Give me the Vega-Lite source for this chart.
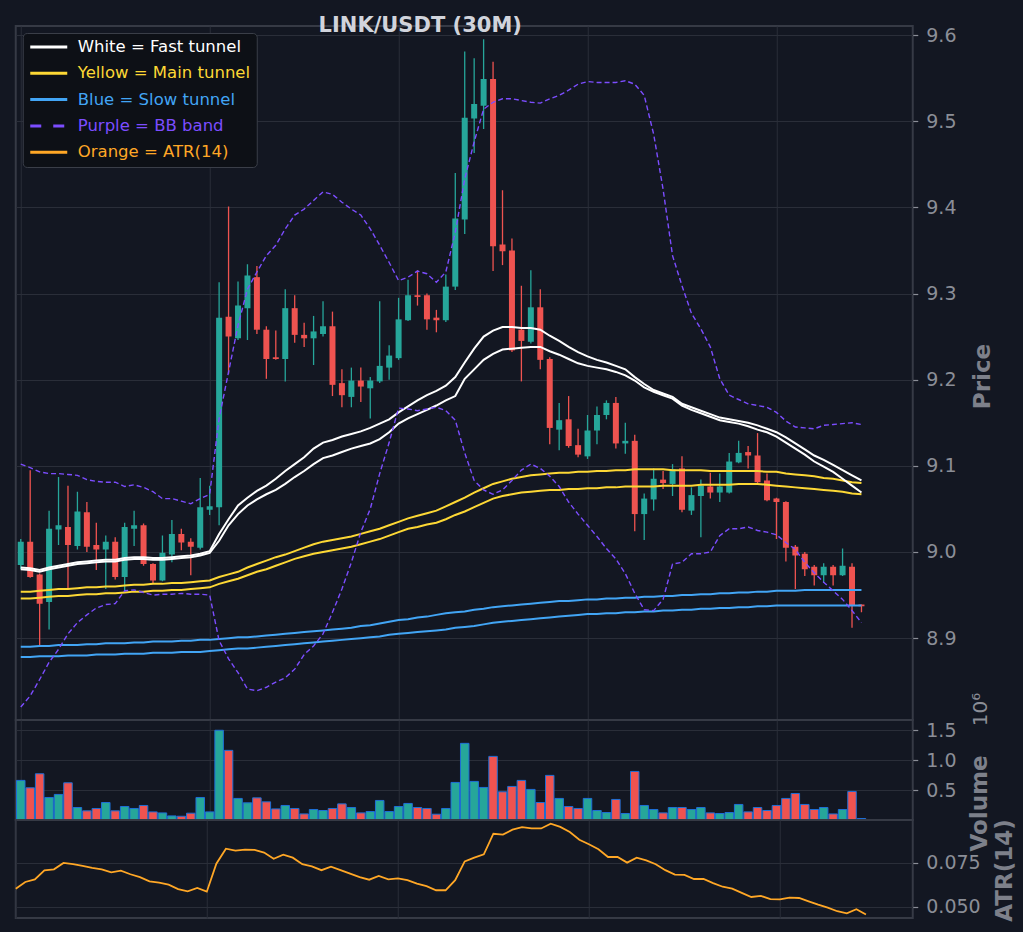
{
  "$schema": "https://vega.github.io/schema/vega-lite/v6.json",
  "description": "LINK/USDT 30m candles with tunnel lines, BB band, volume and ATR(14)",
  "background": "#131722",
  "padding": {"left": 10.75, "top": 14, "right": 5, "bottom": 14},
  "spacing": 0,
  "bounds": "flush",
  "data": {
    "values": [
      {"i":0,"o":8.985,"h":9.015,"l":8.980,"c":9.012,"v":663000,"a":0.0604,"f1":8.982,"f2":8.980,"m1":8.954,"m2":8.946,"s1":8.890,"s2":8.878,"bu":9.102,"bl":8.820},
      {"i":1,"o":9.012,"h":9.095,"l":8.970,"c":8.971,"v":539000,"a":0.0642,"f1":8.981,"f2":8.979,"m1":8.954,"m2":8.946,"s1":8.890,"s2":8.878,"bu":9.098,"bl":8.833},
      {"i":2,"o":8.974,"h":8.975,"l":8.892,"c":8.940,"v":774000,"a":0.0657,"f1":8.979,"f2":8.977,"m1":8.955,"m2":8.947,"s1":8.891,"s2":8.879,"bu":9.093,"bl":8.852},
      {"i":3,"o":8.942,"h":9.048,"l":8.910,"c":9.027,"v":377000,"a":0.0708,"f1":8.982,"f2":8.980,"m1":8.956,"m2":8.948,"s1":8.891,"s2":8.879,"bu":9.091,"bl":8.872},
      {"i":4,"o":9.026,"h":9.087,"l":9.008,"c":9.031,"v":428000,"a":0.0714,"f1":8.984,"f2":8.982,"m1":8.957,"m2":8.949,"s1":8.892,"s2":8.879,"bu":9.091,"bl":8.887},
      {"i":5,"o":9.029,"h":9.077,"l":8.957,"c":9.008,"v":623000,"a":0.0750,"f1":8.986,"f2":8.984,"m1":8.957,"m2":8.949,"s1":8.892,"s2":8.880,"bu":9.090,"bl":8.905},
      {"i":6,"o":9.007,"h":9.070,"l":9.003,"c":9.047,"v":209000,"a":0.0744,"f1":8.988,"f2":8.986,"m1":8.958,"m2":8.950,"s1":8.892,"s2":8.880,"bu":9.089,"bl":8.918},
      {"i":7,"o":9.046,"h":9.058,"l":9.000,"c":9.006,"v":153000,"a":0.0733,"f1":8.989,"f2":8.987,"m1":8.959,"m2":8.951,"s1":8.893,"s2":8.880,"bu":9.084,"bl":8.927},
      {"i":8,"o":9.008,"h":9.034,"l":8.979,"c":9.003,"v":193000,"a":0.0722,"f1":8.990,"f2":8.988,"m1":8.959,"m2":8.951,"s1":8.893,"s2":8.881,"bu":9.082,"bl":8.935},
      {"i":9,"o":9.003,"h":9.019,"l":8.957,"c":9.012,"v":293000,"a":0.0714,"f1":8.991,"f2":8.989,"m1":8.960,"m2":8.952,"s1":8.894,"s2":8.881,"bu":9.081,"bl":8.939},
      {"i":10,"o":9.012,"h":9.017,"l":8.968,"c":8.971,"v":153000,"a":0.0697,"f1":8.991,"f2":8.989,"m1":8.960,"m2":8.952,"s1":8.894,"s2":8.881,"bu":9.081,"bl":8.940},
      {"i":11,"o":8.971,"h":9.034,"l":8.954,"c":9.029,"v":226000,"a":0.0706,"f1":8.993,"f2":8.991,"m1":8.961,"m2":8.953,"s1":8.894,"s2":8.882,"bu":9.076,"bl":8.955},
      {"i":12,"o":9.027,"h":9.048,"l":9.007,"c":9.031,"v":193000,"a":0.0686,"f1":8.994,"f2":8.992,"m1":8.962,"m2":8.954,"s1":8.895,"s2":8.882,"bu":9.078,"bl":8.956},
      {"i":13,"o":9.031,"h":9.033,"l":8.984,"c":8.986,"v":243000,"a":0.0670,"f1":8.994,"f2":8.992,"m1":8.962,"m2":8.954,"s1":8.895,"s2":8.882,"bu":9.075,"bl":8.953},
      {"i":14,"o":8.986,"h":8.987,"l":8.963,"c":8.967,"v":136000,"a":0.0646,"f1":8.993,"f2":8.991,"m1":8.963,"m2":8.955,"s1":8.896,"s2":8.883,"bu":9.070,"bl":8.950},
      {"i":15,"o":8.967,"h":9.019,"l":8.966,"c":8.999,"v":119000,"a":0.0638,"f1":8.993,"f2":8.991,"m1":8.963,"m2":8.955,"s1":8.896,"s2":8.883,"bu":9.062,"bl":8.951},
      {"i":16,"o":8.997,"h":9.037,"l":8.988,"c":9.021,"v":69000,"a":0.0627,"f1":8.994,"f2":8.992,"m1":8.964,"m2":8.956,"s1":8.896,"s2":8.883,"bu":9.062,"bl":8.951},
      {"i":17,"o":9.021,"h":9.027,"l":9.002,"c":9.011,"v":63000,"a":0.0602,"f1":8.995,"f2":8.993,"m1":8.964,"m2":8.956,"s1":8.897,"s2":8.884,"bu":9.059,"bl":8.952},
      {"i":18,"o":9.012,"h":9.016,"l":8.973,"c":9.006,"v":114000,"a":0.0589,"f1":8.996,"f2":8.994,"m1":8.965,"m2":8.957,"s1":8.897,"s2":8.884,"bu":9.056,"bl":8.951},
      {"i":19,"o":9.005,"h":9.086,"l":9.003,"c":9.052,"v":377000,"a":0.0608,"f1":8.998,"f2":8.996,"m1":8.966,"m2":8.958,"s1":8.898,"s2":8.884,"bu":9.062,"bl":8.951},
      {"i":20,"o":9.049,"h":9.077,"l":9.043,"c":9.053,"v":136000,"a":0.0587,"f1":9.001,"f2":8.999,"m1":8.967,"m2":8.959,"s1":8.898,"s2":8.885,"bu":9.067,"bl":8.950},
      {"i":21,"o":9.052,"h":9.313,"l":9.031,"c":9.272,"v":1502000,"a":0.0746,"f1":9.021,"f2":9.013,"m1":8.971,"m2":8.963,"s1":8.899,"s2":8.886,"bu":9.155,"bl":8.897},
      {"i":22,"o":9.273,"h":9.401,"l":9.207,"c":9.250,"v":1166000,"a":0.0831,"f1":9.038,"f2":9.031,"m1":8.974,"m2":8.966,"s1":8.900,"s2":8.887,"bu":9.209,"bl":8.876},
      {"i":23,"o":9.248,"h":9.314,"l":9.246,"c":9.286,"v":361000,"a":0.0820,"f1":9.054,"f2":9.044,"m1":8.977,"m2":8.969,"s1":8.901,"s2":8.888,"bu":9.263,"bl":8.860},
      {"i":24,"o":9.283,"h":9.334,"l":9.246,"c":9.321,"v":287000,"a":0.0826,"f1":9.063,"f2":9.054,"m1":8.982,"m2":8.973,"s1":8.901,"s2":8.888,"bu":9.305,"bl":8.841},
      {"i":25,"o":9.319,"h":9.332,"l":9.253,"c":9.258,"v":371000,"a":0.0824,"f1":9.071,"f2":9.061,"m1":8.986,"m2":8.977,"s1":8.902,"s2":8.889,"bu":9.325,"bl":8.839},
      {"i":26,"o":9.258,"h":9.262,"l":9.201,"c":9.224,"v":304000,"a":0.0809,"f1":9.077,"f2":9.067,"m1":8.990,"m2":8.980,"s1":8.903,"s2":8.890,"bu":9.344,"bl":8.843},
      {"i":27,"o":9.226,"h":9.257,"l":9.223,"c":9.224,"v":186000,"a":0.0774,"f1":9.085,"f2":9.072,"m1":8.994,"m2":8.984,"s1":8.904,"s2":8.891,"bu":9.356,"bl":8.849},
      {"i":28,"o":9.224,"h":9.305,"l":9.198,"c":9.283,"v":243000,"a":0.0797,"f1":9.094,"f2":9.079,"m1":8.997,"m2":8.988,"s1":8.905,"s2":8.892,"bu":9.375,"bl":8.854},
      {"i":29,"o":9.283,"h":9.298,"l":9.243,"c":9.252,"v":193000,"a":0.0780,"f1":9.102,"f2":9.087,"m1":9.001,"m2":8.992,"s1":8.906,"s2":8.893,"bu":9.391,"bl":8.864},
      {"i":30,"o":9.252,"h":9.266,"l":9.238,"c":9.248,"v":102000,"a":0.0743,"f1":9.110,"f2":9.094,"m1":9.005,"m2":8.995,"s1":8.907,"s2":8.894,"bu":9.398,"bl":8.881},
      {"i":31,"o":9.248,"h":9.274,"l":9.217,"c":9.256,"v":176000,"a":0.0731,"f1":9.120,"f2":9.102,"m1":9.009,"m2":8.998,"s1":8.908,"s2":8.895,"bu":9.408,"bl":8.891},
      {"i":32,"o":9.253,"h":9.291,"l":9.250,"c":9.262,"v":159000,"a":0.0709,"f1":9.127,"f2":9.109,"m1":9.012,"m2":9.000,"s1":8.909,"s2":8.896,"bu":9.418,"bl":8.905},
      {"i":33,"o":9.262,"h":9.279,"l":9.181,"c":9.194,"v":193000,"a":0.0729,"f1":9.130,"f2":9.112,"m1":9.014,"m2":9.002,"s1":8.910,"s2":8.897,"bu":9.415,"bl":8.930},
      {"i":34,"o":9.196,"h":9.212,"l":9.168,"c":9.182,"v":270000,"a":0.0709,"f1":9.134,"f2":9.116,"m1":9.016,"m2":9.004,"s1":8.911,"s2":8.898,"bu":9.406,"bl":8.957},
      {"i":35,"o":9.180,"h":9.214,"l":9.168,"c":9.199,"v":209000,"a":0.0689,"f1":9.137,"f2":9.120,"m1":9.018,"m2":9.006,"s1":8.912,"s2":8.899,"bu":9.398,"bl":8.988},
      {"i":36,"o":9.199,"h":9.214,"l":9.174,"c":9.192,"v":119000,"a":0.0670,"f1":9.140,"f2":9.123,"m1":9.021,"m2":9.009,"s1":8.914,"s2":8.900,"bu":9.391,"bl":9.023},
      {"i":37,"o":9.190,"h":9.203,"l":9.155,"c":9.199,"v":142000,"a":0.0655,"f1":9.144,"f2":9.126,"m1":9.024,"m2":9.012,"s1":8.915,"s2":8.901,"bu":9.375,"bl":9.050},
      {"i":38,"o":9.198,"h":9.291,"l":9.196,"c":9.216,"v":327000,"a":0.0676,"f1":9.149,"f2":9.131,"m1":9.027,"m2":9.015,"s1":8.917,"s2":8.902,"bu":9.356,"bl":9.091},
      {"i":39,"o":9.214,"h":9.240,"l":9.200,"c":9.228,"v":142000,"a":0.0657,"f1":9.154,"f2":9.139,"m1":9.031,"m2":9.019,"s1":8.919,"s2":8.904,"bu":9.336,"bl":9.127},
      {"i":40,"o":9.225,"h":9.295,"l":9.223,"c":9.270,"v":226000,"a":0.0663,"f1":9.162,"f2":9.149,"m1":9.035,"m2":9.023,"s1":8.921,"s2":8.905,"bu":9.315,"bl":9.167},
      {"i":41,"o":9.269,"h":9.316,"l":9.268,"c":9.298,"v":277000,"a":0.0652,"f1":9.169,"f2":9.155,"m1":9.039,"m2":9.027,"s1":8.922,"s2":8.906,"bu":9.319,"bl":9.166},
      {"i":42,"o":9.298,"h":9.327,"l":9.286,"c":9.296,"v":209000,"a":0.0633,"f1":9.176,"f2":9.160,"m1":9.042,"m2":9.029,"s1":8.924,"s2":8.907,"bu":9.326,"bl":9.164},
      {"i":43,"o":9.298,"h":9.300,"l":9.258,"c":9.270,"v":193000,"a":0.0618,"f1":9.182,"f2":9.165,"m1":9.045,"m2":9.032,"s1":8.925,"s2":8.908,"bu":9.323,"bl":9.166},
      {"i":44,"o":9.272,"h":9.281,"l":9.255,"c":9.269,"v":97000,"a":0.0595,"f1":9.187,"f2":9.170,"m1":9.048,"m2":9.034,"s1":8.927,"s2":8.909,"bu":9.313,"bl":9.168},
      {"i":45,"o":9.269,"h":9.322,"l":9.267,"c":9.308,"v":193000,"a":0.0595,"f1":9.193,"f2":9.176,"m1":9.053,"m2":9.038,"s1":8.929,"s2":8.910,"bu":9.325,"bl":9.164},
      {"i":46,"o":9.308,"h":9.440,"l":9.304,"c":9.387,"v":629000,"a":0.0652,"f1":9.203,"f2":9.181,"m1":9.058,"m2":9.043,"s1":8.930,"s2":8.912,"bu":9.371,"bl":9.153},
      {"i":47,"o":9.386,"h":9.581,"l":9.369,"c":9.504,"v":1283000,"a":0.0759,"f1":9.220,"f2":9.201,"m1":9.063,"m2":9.047,"s1":8.931,"s2":8.913,"bu":9.433,"bl":9.115},
      {"i":48,"o":9.503,"h":9.573,"l":9.463,"c":9.520,"v":646000,"a":0.0780,"f1":9.236,"f2":9.212,"m1":9.069,"m2":9.052,"s1":8.933,"s2":8.914,"bu":9.476,"bl":9.083},
      {"i":49,"o":9.518,"h":9.595,"l":9.491,"c":9.549,"v":545000,"a":0.0799,"f1":9.250,"f2":9.223,"m1":9.074,"m2":9.057,"s1":8.934,"s2":8.916,"bu":9.514,"bl":9.072},
      {"i":50,"o":9.549,"h":9.569,"l":9.326,"c":9.355,"v":1065000,"a":0.0916,"f1":9.257,"f2":9.230,"m1":9.079,"m2":9.062,"s1":8.936,"s2":8.918,"bu":9.522,"bl":9.067},
      {"i":51,"o":9.357,"h":9.420,"l":9.333,"c":9.349,"v":472000,"a":0.0911,"f1":9.261,"f2":9.235,"m1":9.082,"m2":9.065,"s1":8.937,"s2":8.919,"bu":9.526,"bl":9.072},
      {"i":52,"o":9.350,"h":9.364,"l":9.232,"c":9.234,"v":562000,"a":0.0939,"f1":9.261,"f2":9.236,"m1":9.085,"m2":9.067,"s1":8.938,"s2":8.920,"bu":9.526,"bl":9.083},
      {"i":53,"o":9.258,"h":9.309,"l":9.198,"c":9.245,"v":663000,"a":0.0953,"f1":9.260,"f2":9.237,"m1":9.087,"m2":9.069,"s1":8.939,"s2":8.921,"bu":9.524,"bl":9.095},
      {"i":54,"o":9.244,"h":9.327,"l":9.242,"c":9.284,"v":512000,"a":0.0947,"f1":9.260,"f2":9.238,"m1":9.089,"m2":9.070,"s1":8.940,"s2":8.922,"bu":9.522,"bl":9.102},
      {"i":55,"o":9.284,"h":9.305,"l":9.212,"c":9.223,"v":293000,"a":0.0946,"f1":9.258,"f2":9.238,"m1":9.090,"m2":9.071,"s1":8.941,"s2":8.923,"bu":9.521,"bl":9.097},
      {"i":56,"o":9.224,"h":9.226,"l":9.125,"c":9.144,"v":747000,"a":0.0973,"f1":9.251,"f2":9.233,"m1":9.091,"m2":9.072,"s1":8.942,"s2":8.924,"bu":9.526,"bl":9.088},
      {"i":57,"o":9.142,"h":9.173,"l":9.118,"c":9.153,"v":361000,"a":0.0955,"f1":9.245,"f2":9.229,"m1":9.092,"m2":9.072,"s1":8.943,"s2":8.925,"bu":9.530,"bl":9.076},
      {"i":58,"o":9.154,"h":9.181,"l":9.121,"c":9.123,"v":226000,"a":0.0926,"f1":9.238,"f2":9.224,"m1":9.092,"m2":9.073,"s1":8.943,"s2":8.926,"bu":9.536,"bl":9.058},
      {"i":59,"o":9.124,"h":9.143,"l":9.110,"c":9.113,"v":193000,"a":0.0882,"f1":9.232,"f2":9.219,"m1":9.093,"m2":9.073,"s1":8.944,"s2":8.927,"bu":9.543,"bl":9.044},
      {"i":60,"o":9.111,"h":9.159,"l":9.108,"c":9.141,"v":361000,"a":0.0856,"f1":9.227,"f2":9.216,"m1":9.093,"m2":9.074,"s1":8.945,"s2":8.928,"bu":9.546,"bl":9.031},
      {"i":61,"o":9.141,"h":9.169,"l":9.125,"c":9.159,"v":159000,"a":0.0828,"f1":9.223,"f2":9.214,"m1":9.094,"m2":9.074,"s1":8.945,"s2":8.928,"bu":9.545,"bl":9.018},
      {"i":62,"o":9.159,"h":9.176,"l":9.154,"c":9.173,"v":125000,"a":0.0784,"f1":9.220,"f2":9.212,"m1":9.094,"m2":9.075,"s1":8.946,"s2":8.929,"bu":9.545,"bl":9.004},
      {"i":63,"o":9.173,"h":9.180,"l":9.120,"c":9.126,"v":344000,"a":0.0784,"f1":9.216,"f2":9.209,"m1":9.095,"m2":9.075,"s1":8.946,"s2":8.929,"bu":9.545,"bl":8.992},
      {"i":64,"o":9.126,"h":9.150,"l":9.114,"c":9.129,"v":109000,"a":0.0752,"f1":9.212,"f2":9.205,"m1":9.095,"m2":9.076,"s1":8.947,"s2":8.930,"bu":9.547,"bl":8.975},
      {"i":65,"o":9.129,"h":9.136,"l":9.024,"c":9.044,"v":813000,"a":0.0780,"f1":9.203,"f2":9.199,"m1":9.096,"m2":9.076,"s1":8.947,"s2":8.930,"bu":9.543,"bl":8.952},
      {"i":66,"o":9.044,"h":9.068,"l":9.014,"c":9.062,"v":243000,"a":0.0765,"f1":9.195,"f2":9.191,"m1":9.096,"m2":9.076,"s1":8.948,"s2":8.931,"bu":9.530,"bl":8.933},
      {"i":67,"o":9.061,"h":9.097,"l":9.048,"c":9.085,"v":176000,"a":0.0743,"f1":9.188,"f2":9.186,"m1":9.096,"m2":9.076,"s1":8.948,"s2":8.931,"bu":9.485,"bl":8.932},
      {"i":68,"o":9.084,"h":9.094,"l":9.073,"c":9.080,"v":119000,"a":0.0709,"f1":9.184,"f2":9.182,"m1":9.096,"m2":9.077,"s1":8.949,"s2":8.932,"bu":9.421,"bl":8.945},
      {"i":69,"o":9.079,"h":9.102,"l":9.065,"c":9.096,"v":209000,"a":0.0684,"f1":9.180,"f2":9.178,"m1":9.095,"m2":9.077,"s1":8.949,"s2":8.932,"bu":9.344,"bl":8.986},
      {"i":70,"o":9.097,"h":9.111,"l":9.046,"c":9.049,"v":209000,"a":0.0682,"f1":9.172,"f2":9.170,"m1":9.095,"m2":9.077,"s1":8.950,"s2":8.933,"bu":9.309,"bl":8.988},
      {"i":71,"o":9.048,"h":9.075,"l":9.043,"c":9.066,"v":176000,"a":0.0659,"f1":9.168,"f2":9.165,"m1":9.095,"m2":9.077,"s1":8.950,"s2":8.933,"bu":9.277,"bl":8.998},
      {"i":72,"o":9.065,"h":9.084,"l":9.017,"c":9.077,"v":209000,"a":0.0659,"f1":9.164,"f2":9.161,"m1":9.095,"m2":9.078,"s1":8.951,"s2":8.934,"bu":9.259,"bl":8.998},
      {"i":73,"o":9.076,"h":9.092,"l":9.062,"c":9.069,"v":119000,"a":0.0636,"f1":9.160,"f2":9.157,"m1":9.094,"m2":9.078,"s1":8.951,"s2":8.934,"bu":9.238,"bl":9.000},
      {"i":74,"o":9.069,"h":9.091,"l":9.058,"c":9.076,"v":109000,"a":0.0615,"f1":9.156,"f2":9.153,"m1":9.094,"m2":9.078,"s1":8.952,"s2":8.935,"bu":9.201,"bl":9.019},
      {"i":75,"o":9.069,"h":9.115,"l":9.068,"c":9.105,"v":125000,"a":0.0604,"f1":9.154,"f2":9.151,"m1":9.094,"m2":9.078,"s1":8.952,"s2":8.935,"bu":9.182,"bl":9.027},
      {"i":76,"o":9.104,"h":9.129,"l":9.103,"c":9.115,"v":260000,"a":0.0580,"f1":9.152,"f2":9.149,"m1":9.094,"m2":9.079,"s1":8.953,"s2":8.936,"bu":9.177,"bl":9.027},
      {"i":77,"o":9.116,"h":9.123,"l":9.097,"c":9.112,"v":136000,"a":0.0557,"f1":9.150,"f2":9.146,"m1":9.094,"m2":9.079,"s1":8.953,"s2":8.936,"bu":9.172,"bl":9.029},
      {"i":78,"o":9.112,"h":9.138,"l":9.079,"c":9.081,"v":209000,"a":0.0563,"f1":9.147,"f2":9.142,"m1":9.094,"m2":9.079,"s1":8.954,"s2":8.937,"bu":9.170,"bl":9.025},
      {"i":79,"o":9.083,"h":9.091,"l":9.059,"c":9.060,"v":159000,"a":0.0545,"f1":9.143,"f2":9.139,"m1":9.093,"m2":9.078,"s1":8.954,"s2":8.937,"bu":9.168,"bl":9.023},
      {"i":80,"o":9.062,"h":9.063,"l":9.015,"c":9.058,"v":243000,"a":0.0543,"f1":9.139,"f2":9.134,"m1":9.093,"m2":9.077,"s1":8.955,"s2":8.938,"bu":9.162,"bl":9.020},
      {"i":81,"o":9.058,"h":9.059,"l":8.989,"c":9.005,"v":361000,"a":0.0553,"f1":9.133,"f2":9.127,"m1":9.091,"m2":9.076,"s1":8.955,"s2":8.938,"bu":9.152,"bl":9.011},
      {"i":82,"o":9.006,"h":9.008,"l":8.957,"c":8.996,"v":444000,"a":0.0551,"f1":9.126,"f2":9.120,"m1":9.090,"m2":9.075,"s1":8.955,"s2":8.938,"bu":9.145,"bl":9.003},
      {"i":83,"o":8.998,"h":9.000,"l":8.972,"c":8.980,"v":260000,"a":0.0532,"f1":9.119,"f2":9.113,"m1":9.089,"m2":9.074,"s1":8.956,"s2":8.938,"bu":9.144,"bl":8.988},
      {"i":84,"o":8.983,"h":8.985,"l":8.961,"c":8.973,"v":176000,"a":0.0513,"f1":9.112,"f2":9.105,"m1":9.088,"m2":9.073,"s1":8.956,"s2":8.938,"bu":9.143,"bl":8.976},
      {"i":85,"o":8.973,"h":8.987,"l":8.964,"c":8.983,"v":209000,"a":0.0496,"f1":9.107,"f2":9.099,"m1":9.086,"m2":9.072,"s1":8.956,"s2":8.938,"bu":9.147,"bl":8.965},
      {"i":86,"o":8.983,"h":8.985,"l":8.961,"c":8.973,"v":102000,"a":0.0476,"f1":9.101,"f2":9.093,"m1":9.085,"m2":9.071,"s1":8.956,"s2":8.938,"bu":9.148,"bl":8.955},
      {"i":87,"o":8.973,"h":9.004,"l":8.972,"c":8.984,"v":176000,"a":0.0464,"f1":9.095,"f2":9.085,"m1":9.083,"m2":9.070,"s1":8.956,"s2":8.938,"bu":9.149,"bl":8.945},
      {"i":88,"o":8.983,"h":8.987,"l":8.912,"c":8.938,"v":478000,"a":0.0487,"f1":9.089,"f2":9.077,"m1":9.081,"m2":9.068,"s1":8.956,"s2":8.938,"bu":9.150,"bl":8.932},
      {"i":89,"o":8.939,"h":8.939,"l":8.930,"c":8.937,"v":25000,"a":0.0457,"f1":9.083,"f2":9.069,"m1":9.080,"m2":9.067,"s1":8.956,"s2":8.938,"bu":9.148,"bl":8.918}
    ]
  },
  "vconcat": [
    {
      "width": 897,
      "height": 694,
      "title": {
        "text": "LINK/USDT (30M)",
        "frame": "group",
        "anchor": "middle",
        "dx": -44,
        "offset": -10,
        "font": "DejaVu Sans",
        "fontSize": 21,
        "fontWeight": "bold",
        "color": "#d1d4dc"
      },
      "encoding": {
        "x": {
          "field": "i",
          "type": "quantitative",
          "scale": {"domain": [0, 93.9], "nice": false, "zero": false},
          "axis": {"values": [0, 20, 40, 60, 80], "labels": false, "ticks": false, "domain": false, "title": null, "grid": true}
        }
      },
      "layer": [
        {
          "mark": {"type": "rule", "strokeWidth": 1.3, "clip": true},
          "encoding": {
            "y": {
              "field": "l",
              "type": "quantitative",
              "title": "Price",
              "scale": {"domain": [8.805, 9.6105], "nice": false, "zero": false},
              "axis": {"orient": "right", "values": [8.9, 9.0, 9.1, 9.2, 9.3, 9.4, 9.5, 9.6], "format": ".1f", "grid": true, "titleX": 70, "titleY": 350}
            },
            "y2": {"field": "h"},
            "color": {"condition": {"test": "datum.c >= datum.o", "value": "#26a69a"}, "value": "#ef5350"}
          }
        },
        {
          "mark": {"type": "bar", "width": 6, "clip": true},
          "encoding": {
            "y": {"field": "o", "type": "quantitative", "title": "Price", "scale": {"domain": [8.805, 9.6105], "nice": false, "zero": false}},
            "y2": {"field": "c"},
            "color": {"condition": {"test": "datum.c >= datum.o", "value": "#26a69a"}, "value": "#ef5350"}
          }
        },
        {
          "mark": {"type": "line", "strokeWidth": 2},
          "encoding": {
            "y": {"field": "s1", "type": "quantitative", "title": "Price", "scale": {"domain": [8.805, 9.6105], "nice": false, "zero": false}},
            "color": {
              "datum": "Blue = Slow tunnel",
              "scale": {
                "domain": ["White = Fast tunnel", "Yellow = Main tunnel", "Blue = Slow tunnel", "Purple = BB band", "Orange = ATR(14)"],
                "range": ["#ffffff", "#fdd835", "#42a5f5", "#7c4dff", "#ffa726"]
              },
              "legend": {
                "title": null,
                "orient": "top-left",
                "offset": 7,
                "fillColor": "#0d1016",
                "strokeColor": "#3a3e48",
                "cornerRadius": 4,
                "padding": 6,
                "labelFont": "DejaVu Sans",
                "labelFontSize": 16.5,
                "labelOffset": 9,
                "labelLimit": 400,
                "symbolType": "stroke",
                "symbolStrokeWidth": 3,
                "symbolSize": 1369,
                "rowPadding": 9.3,
                "clipHeight": 16,
                "encode": {
                  "labels": {"update": {"fill": {"scale": "color", "field": "value"}}},
                  "symbols": {"update": {"strokeDash": {"signal": "datum.value === 'Purple = BB band' ? [11, 12] : [1, 0]"}}}
                }
              }
            }
          }
        },
        {
          "mark": {"type": "line", "strokeWidth": 2},
          "encoding": {
            "y": {"field": "s2", "type": "quantitative", "title": "Price", "scale": {"domain": [8.805, 9.6105], "nice": false, "zero": false}},
            "color": {"datum": "Blue = Slow tunnel"}
          }
        },
        {
          "mark": {"type": "line", "strokeWidth": 2},
          "encoding": {
            "y": {"field": "m1", "type": "quantitative", "title": "Price", "scale": {"domain": [8.805, 9.6105], "nice": false, "zero": false}},
            "color": {"datum": "Yellow = Main tunnel"}
          }
        },
        {
          "mark": {"type": "line", "strokeWidth": 2},
          "encoding": {
            "y": {"field": "m2", "type": "quantitative", "title": "Price", "scale": {"domain": [8.805, 9.6105], "nice": false, "zero": false}},
            "color": {"datum": "Yellow = Main tunnel"}
          }
        },
        {
          "mark": {"type": "line", "strokeWidth": 2},
          "encoding": {
            "y": {"field": "f1", "type": "quantitative", "title": "Price", "scale": {"domain": [8.805, 9.6105], "nice": false, "zero": false}},
            "color": {"datum": "White = Fast tunnel"}
          }
        },
        {
          "mark": {"type": "line", "strokeWidth": 2},
          "encoding": {
            "y": {"field": "f2", "type": "quantitative", "title": "Price", "scale": {"domain": [8.805, 9.6105], "nice": false, "zero": false}},
            "color": {"datum": "White = Fast tunnel"}
          }
        },
        {
          "mark": {"type": "line", "strokeWidth": 1.4, "strokeDash": [5, 3]},
          "encoding": {
            "y": {"field": "bu", "type": "quantitative", "title": "Price", "scale": {"domain": [8.805, 9.6105], "nice": false, "zero": false}},
            "color": {"datum": "Purple = BB band"}
          }
        },
        {
          "mark": {"type": "line", "strokeWidth": 1.4, "strokeDash": [5, 3]},
          "encoding": {
            "y": {"field": "bl", "type": "quantitative", "title": "Price", "scale": {"domain": [8.805, 9.6105], "nice": false, "zero": false}},
            "color": {"datum": "Purple = BB band"}
          }
        }
      ]
    },
    {
      "width": 897,
      "height": 100,
      "mark": {"type": "bar", "width": 8.5, "stroke": "#1e6fd6", "strokeWidth": 1, "clip": true},
      "encoding": {
        "x": {
          "field": "i",
          "type": "quantitative",
          "scale": {"domain": [0, 93.9], "nice": false, "zero": false},
          "axis": {
            "values": [0, 20, 40, 60, 80],
            "labels": false,
            "ticks": false,
            "domain": false,
            "grid": true,
            "title": "10⁶",
            "titleX": 964.5,
            "titleY": -111,
            "titleFontSize": 20,
            "titleFontWeight": "normal",
            "titleColor": "#8b8e97"
          }
        },
        "y": {
          "field": "v",
          "type": "quantitative",
          "scale": {"domain": [0, 1674000], "nice": false},
          "axis": {"orient": "right", "title": "Volume", "values": [500000, 1000000, 1500000], "labelExpr": "format(datum.value / 1000000, '.1f')", "grid": true, "titleX": 67, "titleY": 83}
        },
        "color": {"condition": {"test": "datum.c >= datum.o", "value": "#26a69a"}, "value": "#ef5350"}
      }
    },
    {
      "width": 897,
      "height": 98,
      "mark": {"type": "line", "strokeWidth": 1.8},
      "encoding": {
        "x": {
          "field": "i",
          "type": "quantitative",
          "scale": {"domain": [0, 93.9], "nice": false, "zero": false},
          "axis": {"values": [0, 20, 40, 60, 80], "labels": false, "ticks": false, "domain": false, "title": null, "grid": true}
        },
        "y": {
          "field": "a",
          "type": "quantitative",
          "scale": {"domain": [0.04375, 0.0994], "nice": false, "zero": false},
          "axis": {"orient": "right", "title": "ATR(14)", "values": [0.05, 0.075], "format": ".3f", "grid": true, "titleX": 92, "titleY": 50}
        },
        "color": {"datum": "Orange = ATR(14)"}
      }
    }
  ],
  "config": {
    "font": "DejaVu Sans",
    "view": {"stroke": "#363a45", "strokeWidth": 2},
    "axis": {
      "gridColor": "#2a2e39",
      "gridWidth": 1,
      "labelColor": "#8b8e97",
      "labelFont": "DejaVu Sans",
      "labelFontSize": 19,
      "labelPadding": 8,
      "tickColor": "#8b8e97",
      "tickSize": 5,
      "tickWidth": 1.2,
      "domain": false,
      "titleColor": "#7d808a",
      "titleFont": "DejaVu Sans",
      "titleFontSize": 23,
      "titleFontWeight": "bold",
      "titleAngle": 270,
      "titleAlign": "center",
      "titleBaseline": "middle"
    }
  }
}
